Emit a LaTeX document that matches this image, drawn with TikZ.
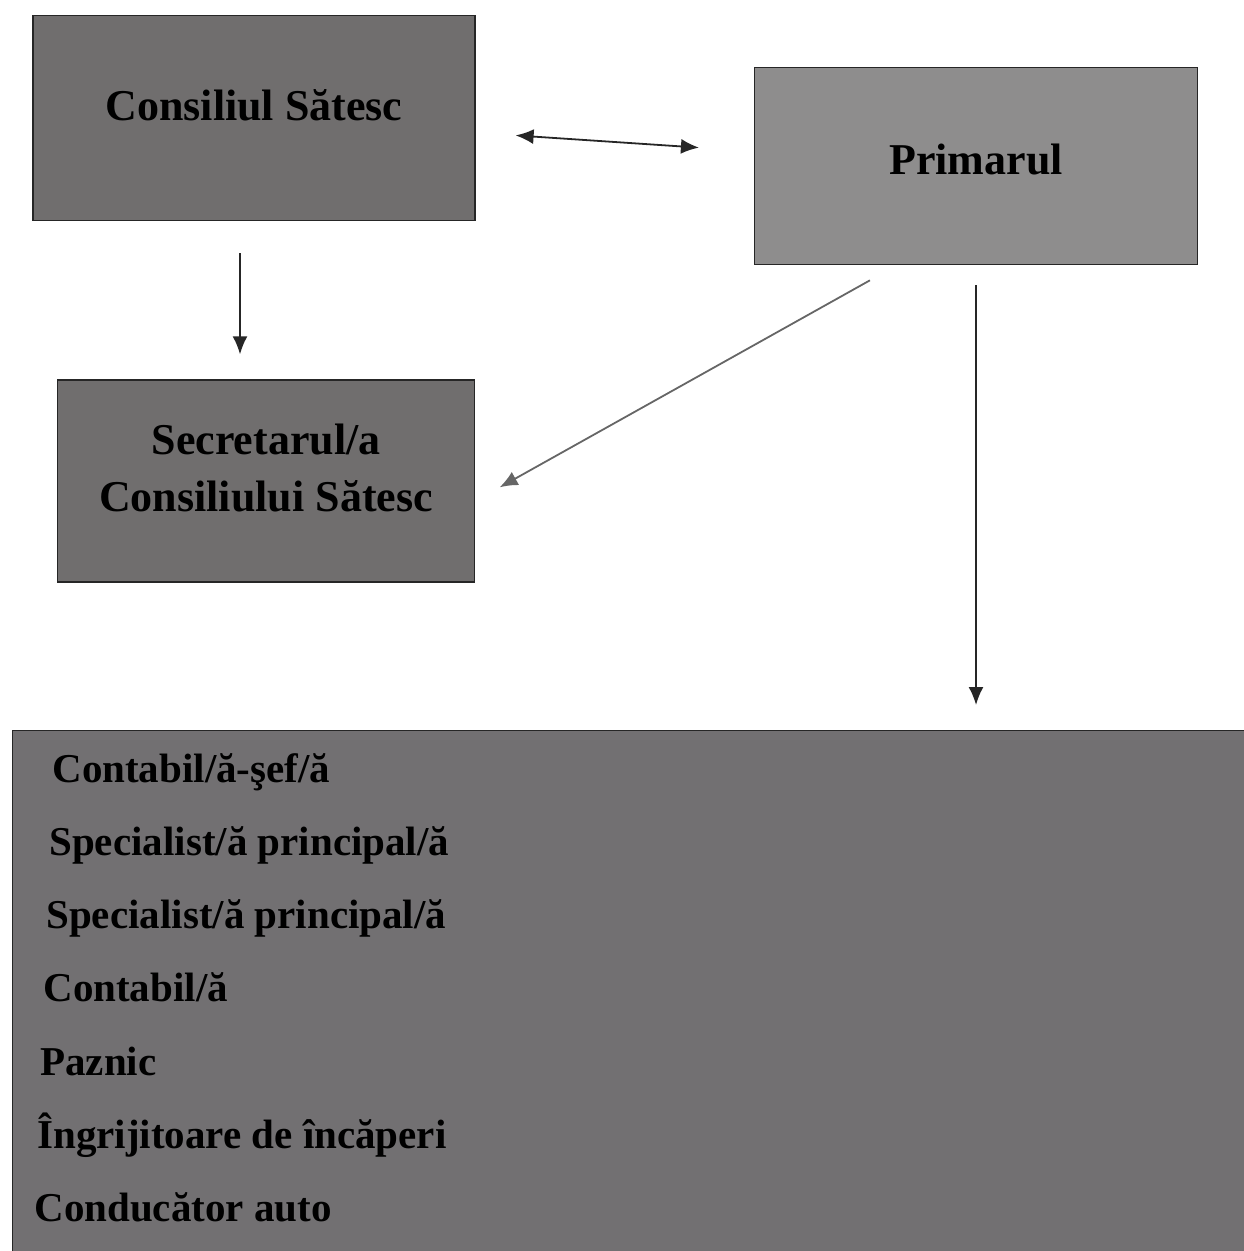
\documentclass[tikz,border=0pt]{standalone}
\usepackage{fontspec}
\setmainfont{Liberation Serif}
\usetikzlibrary{arrows.meta}
\definecolor{councilgray}{RGB}{112,110,110}
\definecolor{mayorgray}{RGB}{142,141,141}
\definecolor{staffgray}{RGB}{114,112,114}
\tikzset{
  box/.style={draw=black!85, line width=0.7pt, fill=councilgray, align=center, inner sep=0pt,
    text depth=13pt, font=\fontsize{22}{28.5}\selectfont\bfseries},
  link/.style={draw=black!85, line width=0.9pt},
  post/.style={anchor=base west, inner sep=0pt, font=\fontsize{20.5}{24}\selectfont\bfseries},
}
\begin{document}
\begin{tikzpicture}[x=0.5pt, y=-0.5pt, >={Latex[length=9pt,width=7.5pt]}]
\useasboundingbox (0,0) rectangle (1243,1251);
\node[box, minimum width=221pt, minimum height=102.5pt] (cs) at (254,118) {Consiliul Sătesc};
\node[box, fill=mayorgray, text depth=7pt, minimum width=221.5pt, minimum height=98.5pt] (pr) at (976,166) {Primarul};
\node[box, minimum width=208.5pt, minimum height=101pt] (sec) at (266,481) {Secretarul/a\\Consiliului Sătesc};
\node[box, fill=staffgray, anchor=north west, minimum width=625pt, minimum height=270pt] (staff) at (12,730) {};
\foreach \post [count=\i] in {Contabil/ă-şef/ă, Specialist/ă principal/ă, Specialist/ă principal/ă,
  Contabil/ă, Paznic, Îngrijitoare de încăperi, Conducător auto}
  \node[post] (post\i) at ({55-3*\i}, {782+73.3*(\i-1)}) {\post};

\draw[link, <->, shorten <=20pt, shorten >=27.5pt] (cs) -- (pr);
\draw[link, ->, shorten <=16pt, shorten >=12.5pt] ([xshift=-7pt]cs.south) -- ([xshift=-7pt]cs.south |- sec.north);
\draw[link, ->, draw=black!60, shorten <=15.5pt, shorten >=14pt] ([xshift=-39.5pt]pr.south) -- ([yshift=-10pt]sec.east);
\draw[link, ->, shorten <=10pt, shorten >=12.5pt] (pr.south) -- (pr.south |- staff.north);
\end{tikzpicture}
\end{document}
